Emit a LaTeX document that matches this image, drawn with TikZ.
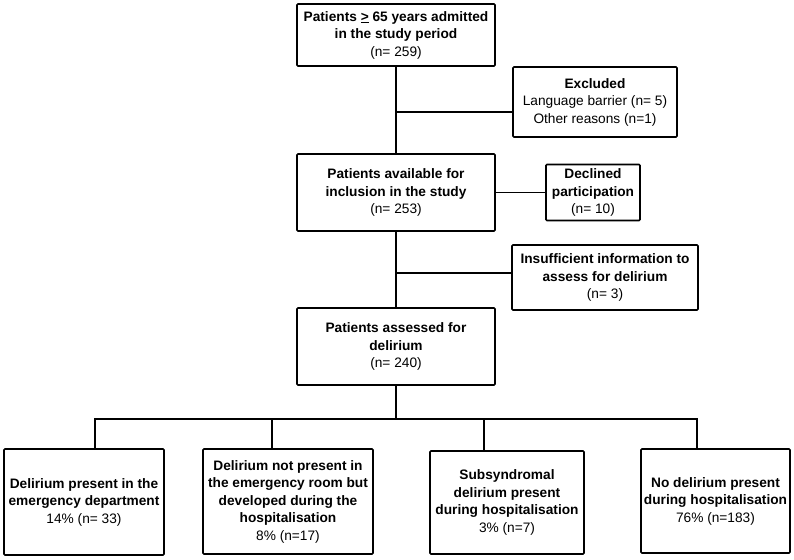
\documentclass[tikz,border=0pt]{standalone}
\usepackage{fontspec}
\setmainfont{Liberation Sans}
\begin{document}
\begin{tikzpicture}[x=1pt,y=-1pt,
  box/.style={draw=black,line width=1.7pt,rounded corners=1pt,inner sep=0pt,align=center,
    font=\fontsize{13.7}{17.5}\selectfont},
  conn/.style={draw=black,line width=1.7pt}]
\useasboundingbox (0,0) rectangle (794,559);
\fill[white] (0,0) rectangle (794,559);
\node[box,minimum width=198pt,minimum height=62pt] (b1) at (396,35)
  {\textbf{Patients \underline{>} 65 years admitted}\\\textbf{in the study period}\\(n= 259)};
\node[box,minimum width=164pt,minimum height=70pt] (excl) at (595,102)
  {\textbf{Excluded}\\Language barrier (n= 5)\\Other reasons (n=1)};
\node[box,minimum width=198pt,minimum height=77pt] (b2) at (396,192.5)
  {\textbf{Patients available for}\\\textbf{inclusion in the study}\\(n= 253)};
\node[box,minimum width=94pt,minimum height=56pt] (decl) at (593,192.5)
  {\textbf{Declined}\\\textbf{participation}\\(n= 10)};
\node[box,minimum width=186pt,minimum height=65pt] (insuf) at (605,277.5)
  {\textbf{Insufficient information to}\\\textbf{assess for delirium}\\(n= 3)};
\node[box,minimum width=198pt,minimum height=77pt] (b3) at (396,346.5)
  {\textbf{Patients assessed for}\\\textbf{delirium}\\(n= 240)};
\node[box,minimum width=160pt,minimum height=106pt] (c1) at (84,502)
  {\textbf{Delirium present in the}\\\textbf{emergency department}\\14\% (n= 33)};
\node[box,minimum width=170pt,minimum height=105pt] (c2) at (288,501.5)
  {\textbf{Delirium not present in}\\\textbf{the emergency room but}\\\textbf{developed during the}\\\textbf{hospitalisation}\\8\% (n=17)};
\node[box,minimum width=154pt,minimum height=103pt] (c3) at (507,502.5)
  {\textbf{Subsyndromal}\\\textbf{delirium present}\\\textbf{during hospitalisation}\\3\% (n=7)};
\node[box,minimum width=149pt,minimum height=104pt] (c4) at (715.5,501)
  {\textbf{No delirium present}\\\textbf{during hospitalisation}\\76\% (n=183)};
\coordinate (sx) at (396,112);
\coordinate (si) at (396,273);
\coordinate (bus) at (396,419);
\coordinate (d1) at (95,419);
\coordinate (d2) at (272,419);
\coordinate (d3) at (484,419);
\coordinate (d4) at (697,419);
\draw[conn] (b1.south) -- (b2.north);
\draw[conn] (b2.south) -- (b3.north);
\draw[conn] (b3.south) -- (bus);
\draw[conn] (sx) -- (sx -| excl.west);
\draw[conn] (si) -- (si -| insuf.west);
\draw[conn] (b2.east) -- (decl.west);
\draw[conn,line cap=rect] (d1) -- (d4);
\draw[conn] (d1) -- (d1 |- c1.north);
\draw[conn] (d2) -- (d2 |- c2.north);
\draw[conn] (d3) -- (d3 |- c3.north);
\draw[conn] (d4) -- (d4 |- c4.north);
\end{tikzpicture}
\end{document}
